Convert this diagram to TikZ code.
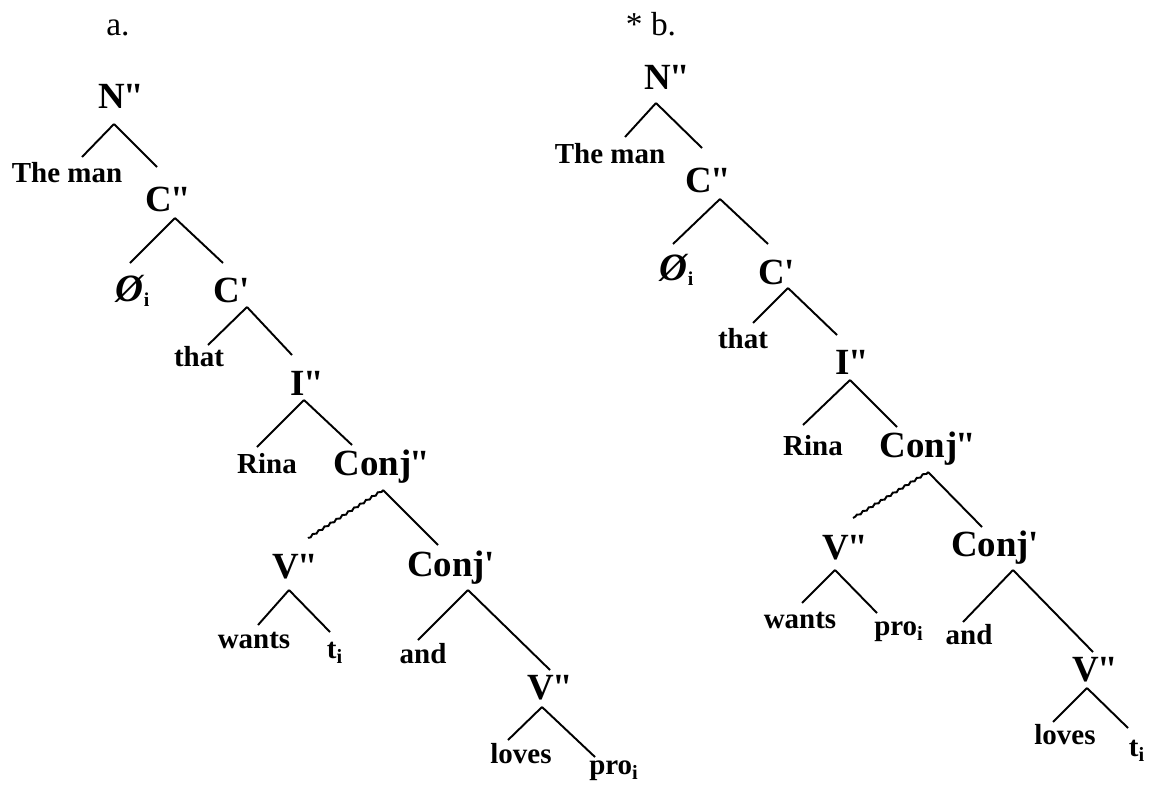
\documentclass[tikz,border=0pt]{standalone}
\usepackage{fontspec}
\setmainfont{Liberation Serif}
\usetikzlibrary{decorations.pathmorphing}
\newcommand{\dq}{\kern-0.05em\textquotedbl}
\newcommand{\sq}{\kern-0.02em\textquotesingle}

\begin{document}
\begin{tikzpicture}[x=0.02cm, y=-0.02cm, line width=1.1pt,
    cat/.style={font=\bfseries\fontsize{21}{22}\selectfont, inner sep=0pt},
    word/.style={font=\bfseries\fontsize{16.5}{18}\selectfont, inner sep=0pt},
    zero/.style={font=\bfseries\itshape\fontsize{22}{22}\selectfont, inner sep=0pt},
    lab/.style={font=\fontsize{19}{20}\selectfont, inner sep=0pt},
    wavy/.style={decorate, decoration={snake, amplitude=0.5pt, segment length=4pt}}]
    \useasboundingbox (0, 0) rectangle (1151, 785);

    % tree a
    \node [lab] (laba) at (118, 28) {a.};
    \node [cat] (Na) at (121, 96) {N\dq};
    \node [word] (mana) at (67, 173) {The man};
    \node [cat] (C2a) at (168, 199) {C\dq};
    \node [zero] (zeroa) at (133, 291) {Ø{\upshape\fontsize{16}{16}\selectfont\textsubscript{i}}};
    \node [cat] (C1a) at (232, 290) {C\sq};
    \node [word] (thata) at (199, 357) {that};
    \node [cat] (I2a) at (307, 383) {I\dq};
    \node [word] (rinaa) at (267, 464) {Rina};
    \node [cat] (CJ2a) at (382, 467) {Conj\dq};
    \node [cat] (V2a) at (295, 567) {V\dq};
    \node [cat] (CJ1a) at (451, 568) {Conj\sq};
    \node [word] (wantsa) at (254, 640) {wants};
    \node [word] (ta) at (335, 653) {t\textsubscript{i}};
    \node [word] (anda) at (423, 654) {and};
    \node [cat] (Vlowa) at (550, 688) {V\dq};
    \node [word] (lovesa) at (521, 754) {loves};
    \node [word] (proa) at (614, 771) {pro\textsubscript{i}};

    \foreach \p/\c/\ax/\ay/\bx/\by in {Na/mana/-7/28/15/-16, Na/C2a/-7/28/-11/-32,
        C2a/zeroa/7/19/-3/-28, C2a/C1a/7/19/-9/-27, C1a/thata/15/17/9/-12,
        C1a/I2a/15/17/-15/-28, I2a/rinaa/-3/17/-10/-17, I2a/CJ2a/-3/17/-30/-22,
        CJ2a/CJ1a/1/23/-13/-23, V2a/wantsa/-6/23/4/-15, V2a/ta/-6/23/-5/-21,
        CJ1a/anda/17/22/-5/-14, CJ1a/Vlowa/17/22/0/-18, Vlowa/lovesa/-8/19/-13/-14,
        Vlowa/proa/-8/19/-19/-14}
      \draw ([shift={(\ax,\ay)}]\p.center) -- ([shift={(\bx,\by)}]\c.center);
    \draw [wavy] ([shift={(1,23)}]CJ2a.center) -- ([shift={(13,-29)}]V2a.center);

    % tree b
    \node [lab] (labb) at (651, 24) {* b.};
    \node [cat] (Nb) at (667, 77) {N\dq};
    \node [word] (manb) at (610, 154) {The man};
    \node [cat] (C2b) at (708, 180) {C\dq};
    \node [zero] (zerob) at (677, 270) {Ø{\upshape\fontsize{16}{16}\selectfont\textsubscript{i}}};
    \node [cat] (C1b) at (777, 272) {C\sq};
    \node [word] (thatb) at (743, 339) {that};
    \node [cat] (I2b) at (852, 362) {I\dq};
    \node [word] (rinab) at (813, 446) {Rina};
    \node [cat] (CJ2b) at (928, 449) {Conj\dq};
    \node [cat] (V2b) at (845, 548) {V\dq};
    \node [cat] (CJ1b) at (995, 548) {Conj\sq};
    \node [word] (wantsb) at (800, 620) {wants};
    \node [word] (prob) at (899, 632) {pro\textsubscript{i}};
    \node [word] (andb) at (969, 635) {and};
    \node [cat] (Vlowb) at (1095, 670) {V\dq};
    \node [word] (lovesb) at (1065, 735) {loves};
    \node [word] (tb) at (1137, 751) {t\textsubscript{i}};

    \foreach \p/\c/\ax/\ay/\bx/\by in {Nb/manb/-11/26/15/-17, Nb/C2b/-11/26/-6/-32,
        C2b/zerob/12/19/-4/-26, C2b/C1b/12/19/-9/-28, C1b/thatb/11/16/10/-16,
        C1b/I2b/11/16/-15/-27, I2b/rinab/-2/18/-10/-21, I2b/CJ2b/-2/18/-31/-22,
        CJ2b/CJ1b/0/23/-13/-21, V2b/wantsb/-10/22/2/-17, V2b/prob/-10/22/-22/-19,
        CJ1b/andb/18/22/-6/-13, CJ1b/Vlowb/18/22/-2/-18, Vlowb/lovesb/-8/18/-12/-13,
        Vlowb/tb/-8/18/-9/-23}
      \draw ([shift={(\ax,\ay)}]\p.center) -- ([shift={(\bx,\by)}]\c.center);
    \draw [wavy] ([shift={(0,23)}]CJ2b.center) -- ([shift={(8,-30)}]V2b.center);
\end{tikzpicture}
\end{document}
